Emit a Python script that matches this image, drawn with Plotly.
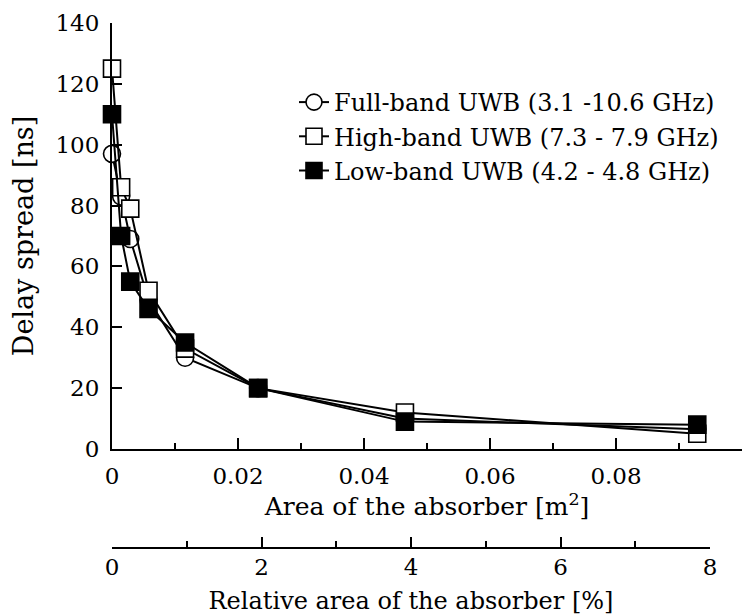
import plotly.graph_objects as go

# Data
area_m2 = [0.0, 0.00145, 0.0029, 0.0058, 0.0116, 0.0232, 0.0465, 0.0929]
full_band = [97, 83, 69, 49, 30, 20, 10, 6.5]
high_band = [125, 86, 79, 52, 33, 20, 12, 5]
low_band = [110, 70, 55, 46, 35, 20, 9, 8]

series_names = [
    "Full-band UWB (3.1 -10.6 GHz)",
    "High-band UWB (7.3 - 7.9 GHz)",
    "Low-band UWB (4.2 - 4.8 GHz)",
]

FONT = "DejaVu Serif"
W, H = 756, 615
L, R, T, B = 112, 14, 23, 68
plot_h = H - T - B
plot_w = W - L - R
x_axis_y_px = 449
y_dom0 = (H - B - x_axis_y_px) / plot_h
x2_end = (710 - L) / plot_w

fig = go.Figure()

styles = [
    dict(symbol="circle", color="white"),
    dict(symbol="square", color="white"),
    dict(symbol="square", color="black"),
]
for name, vals, st in zip(series_names, [full_band, high_band, low_band], styles):
    fig.add_trace(go.Scatter(
        x=area_m2, y=vals, name=name, mode="lines+markers",
        line=dict(color="black", width=2),
        marker=dict(symbol=st["symbol"], size=17, color=st["color"],
                    line=dict(color="black", width=1.6)),
        cliponaxis=False,
    ))

# empty trace on its own subplot so the secondary (relative area) axis is drawn
fig.add_trace(go.Scatter(x=[None], y=[None], xaxis="x2", yaxis="y2",
                         showlegend=False, hoverinfo="skip", mode="markers"))

axis_common = dict(
    showline=True, linecolor="black", linewidth=2,
    ticks="inside", tickcolor="black", tickwidth=2,
    showgrid=False, zeroline=False, automargin=False,
    layer="above traces",
    tickfont=dict(family=FONT, size=23, color="black"),
)

fig.update_layout(
    width=W, height=H,
    margin=dict(l=L, r=R, t=T, b=B),
    paper_bgcolor="white", plot_bgcolor="rgba(0,0,0,0)",
    font=dict(family=FONT, color="black"),
    xaxis=dict(
        **axis_common,
        range=[0, 0.1], dtick=0.02, tick0=0, ticklen=11,
        minor=dict(ticks="inside", dtick=0.01, ticklen=6, tickwidth=2, tickcolor="black"),
        domain=[0, 1], anchor="y",
        ticklabelstandoff=5,
        title=dict(text="Area of the absorber [m<sup>2</sup>]",
                   font=dict(family=FONT, size=25, color="black"), standoff=4),
    ),
    xaxis2=dict(
        **axis_common,
        range=[0, 8], dtick=2, tick0=0, ticklen=10,
        minor=dict(ticks="inside", dtick=1, ticklen=6, tickwidth=2, tickcolor="black"),
        domain=[0, x2_end], anchor="y2",
        ticklabelstandoff=-2,
        title=dict(text="Relative area of the absorber [%]",
                   font=dict(family=FONT, size=24, color="black"), standoff=18),
    ),
    yaxis=dict(
        **axis_common,
        range=[0, 140], dtick=20, tick0=0, ticklen=10,
        domain=[y_dom0, 1], anchor="x",
        ticklabelstandoff=6,
        title=dict(text="Delay spread [ns]",
                   font=dict(family=FONT, size=27, color="black"), standoff=14),
    ),
    yaxis2=dict(domain=[0, 0.02], anchor="x2", visible=False, range=[0, 1]),
    legend=dict(
        x=(294 - L) / plot_w, y=(H - B - 80) / plot_h,
        xanchor="left", yanchor="top",
        bgcolor="rgba(0,0,0,0)", borderwidth=0,
        font=dict(family=FONT, size=24, color="black"),
        tracegroupgap=0,
    ),
    showlegend=True,
)

fig.write_html("out.html")
